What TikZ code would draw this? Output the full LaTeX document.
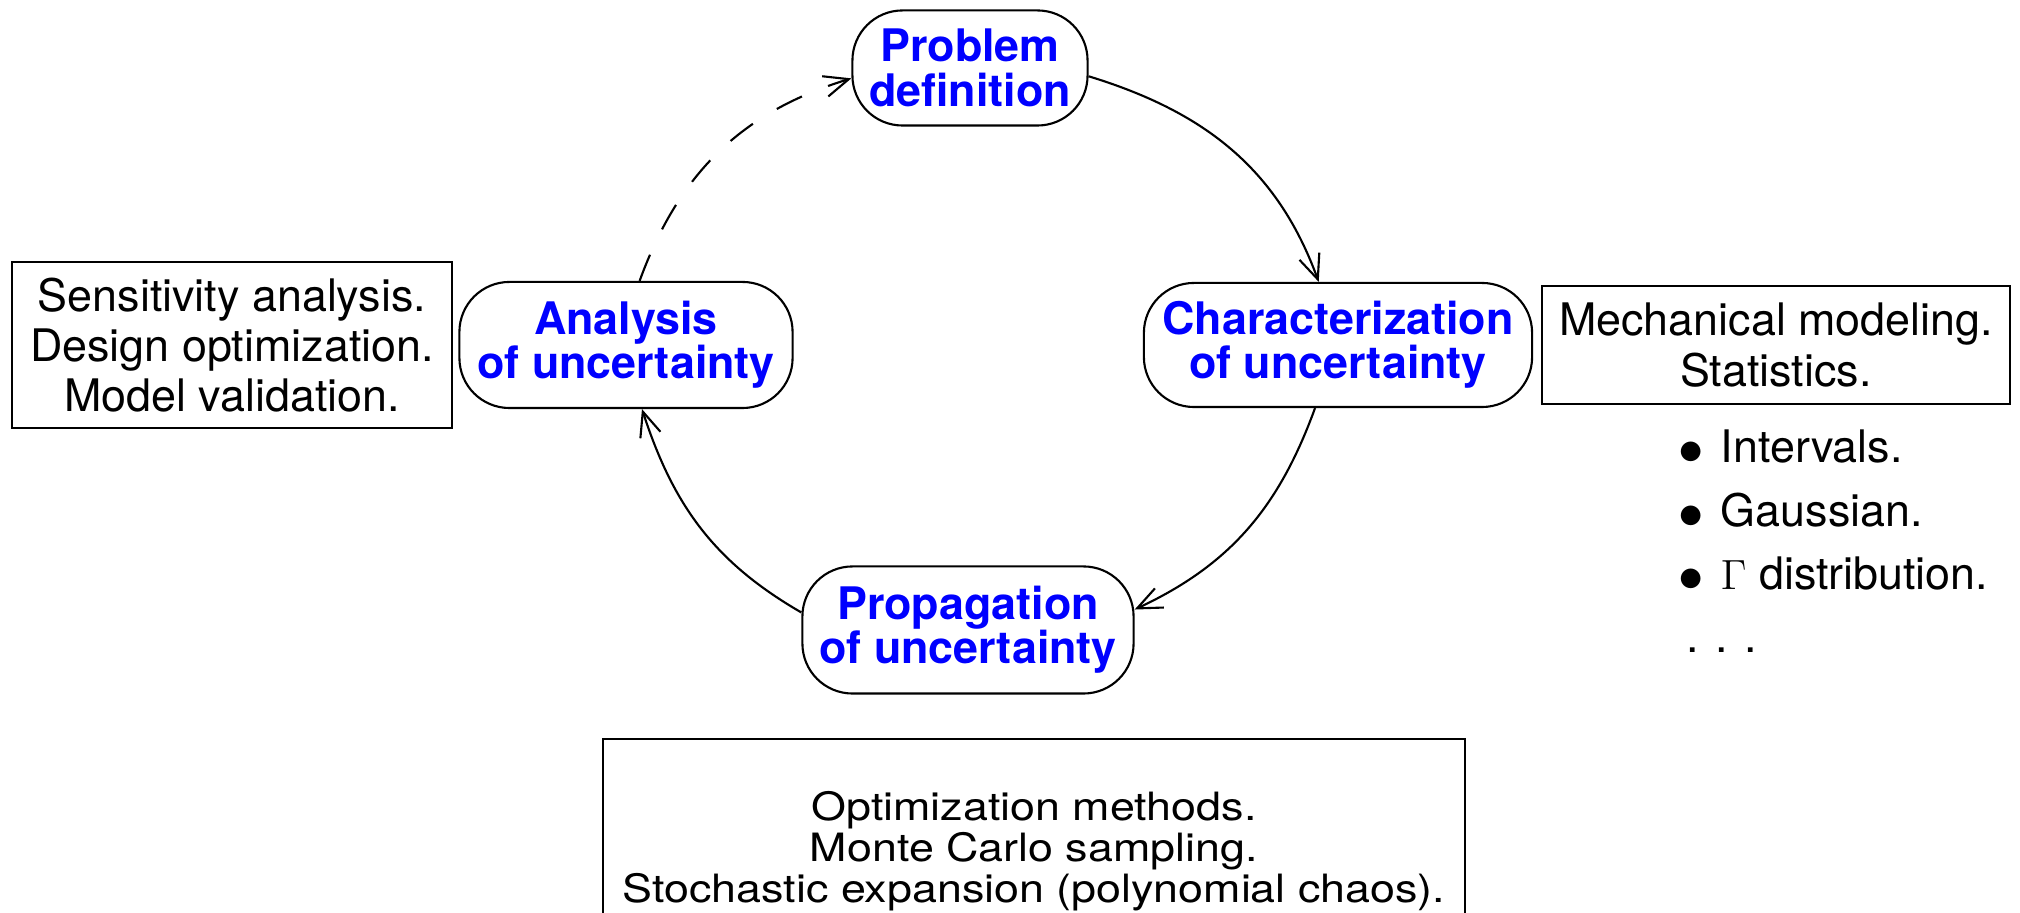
\documentclass[tikz,border=0pt]{standalone}
\usepackage{fontspec}
\usepackage{graphicx}
\setmainfont{TeX Gyre Heros}
\usetikzlibrary{arrows.meta}
\definecolor{pblue}{RGB}{0,0,255}
\newcommand{\bigbul}{\makebox[12pt][l]{\raisebox{-0.4pt}{\fontsize{15.5}{15.5}\selectfont$\bullet$}}}
\begin{document}
\begin{tikzpicture}[x=0.01cm,y=0.01cm,
  lw/.style={line width=0.6pt},
  stage/.style={draw, lw, rounded corners=0.5cm, inner sep=0pt, align=center, text=pblue, font=\fontsize{12.75}{12.6}\selectfont\bfseries},
  infobox/.style={draw, lw, inner sep=0pt, align=center, font=\fontsize{12.75}{14.2}\selectfont},
  listitem/.style={anchor=base west, inner sep=0pt, font=\fontsize{12.75}{14}\selectfont},
  flow/.style={lw, -{Straight Barb[length=7pt,width=6pt]}},
]
\useasboundingbox (0,0) rectangle (2020,913);
\clip (0,0) rectangle (2020,913);

\node[stage, minimum width=2.35cm, minimum height=1.15cm] (pd) at (970,845) {Problem\\definition};
\node[stage, minimum width=3.88cm, minimum height=1.24cm] (ch) at (1338,568) {Characterization\\of uncertainty};
\node[stage, minimum width=3.33cm, minimum height=1.26cm] (an) at (626,568) {Analysis\\of uncertainty};
\node[stage, minimum width=3.31cm, minimum height=1.27cm] (pr) at (968,283) {Propagation\\of uncertainty};

\node[infobox, minimum width=4.40cm, minimum height=1.66cm] (lb) at (232,568) {Sensitivity analysis.\\Design optimization.\\Model validation.};
\node[infobox, minimum width=4.68cm, minimum height=1.18cm, font=\fontsize{12.75}{14.5}\selectfont] (rb) at (1776,568) {Mechanical modeling.\\Statistics.};

\node[listitem] (b1) at (1678,450) {\bigbul Intervals.};
\node[listitem] (b2) at (1678,386) {\bigbul Gaussian.};
\node[listitem] (b3) at (1678,323) {\bigbul $\Gamma$ distribution.};
\node[listitem] (b4) at (1686,260) {. . .};

\node[draw, lw, inner sep=0pt, minimum width=8.62cm, minimum height=3cm, anchor=north] (bb) at (1034,175) {};
\node[inner sep=0pt, font=\fontsize{12.75}{12.8}\selectfont] (bt) at (1034,60) {\scalebox{1}[0.87]{\begin{tabular}{@{}c@{}}Optimization methods.\\Monte Carlo sampling.\\Stochastic expansion (polynomial chaos).\end{tabular}}};

\draw[flow] (pd.-4) to[out=-17,in=110] (ch.107);
\draw[flow] (ch.-110) to[out=-110,in=25] (pr.7);
\draw[flow] (pr.174) to[out=150,in=-72] (an.-76);
\draw[flow, dash pattern=on 8pt off 8pt] (an.78) to[out=70,in=-163] (pd.185);
\end{tikzpicture}
\end{document}
